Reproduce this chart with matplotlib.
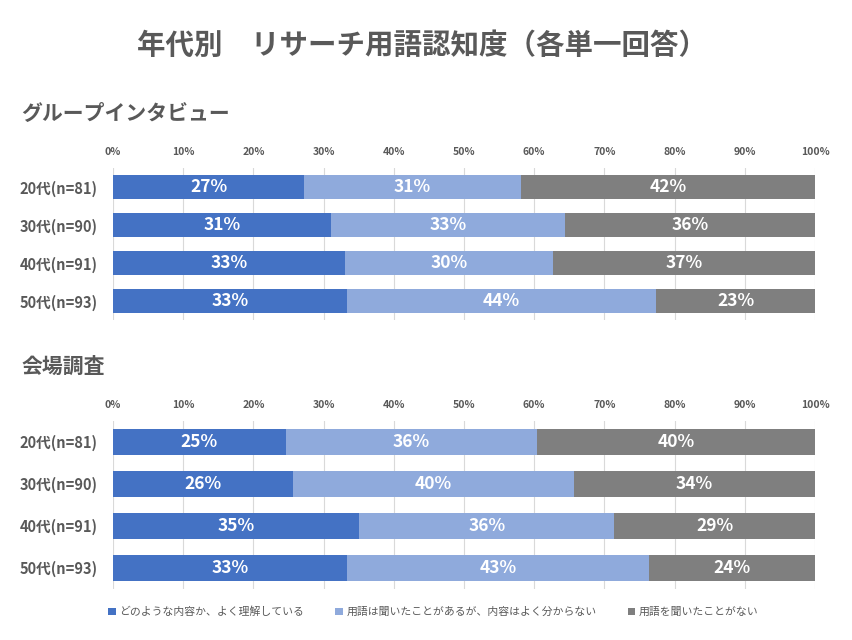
import matplotlib
matplotlib.use("Agg")
import matplotlib.pyplot as plt
from matplotlib.patches import Patch
import numpy as np

plt.rcParams['font.family'] = ['Noto Sans CJK JP', 'DejaVu Sans']

# data (percent)
ages = ["20代(n=81)", "30代(n=90)", "40代(n=91)", "50代(n=93)"]
series_names = ["どのような内容か、よく理解している",
                "用語は聞いたことがあるが、内容はよく分からない",
                "用語を聞いたことがない"]
group_interview = [
    [27.2, 31.1, 33.0, 33.3],
    [30.9, 33.3, 29.7, 44.1],
    [41.9, 35.6, 37.3, 22.6],
]
venue_survey = [
    [24.6, 25.6, 35.1, 33.4],
    [35.8, 40.0, 36.3, 43.0],
    [39.6, 34.4, 28.6, 23.6],
]
ticks = [0, 10, 20, 30, 40, 50, 60, 70, 80, 90, 100]

colors = ["#4472C4", "#8FAADC", "#7F7F7F"]
text_col = "#595959"


def draw(ax, data, height):
    y = np.arange(len(ages))
    left = np.zeros(len(ages))
    for vals, col in zip(data, colors):
        vals = np.array(vals)
        bars = ax.barh(y, vals, left=left, height=height, color=col, zorder=3)
        ax.bar_label(bars, labels=[f"{v:.0f}%" for v in vals], label_type='center',
                     color='white', fontsize=12.5, fontweight='bold')
        left += vals
    ax.set_xlim(0, 100)
    ax.set_ylim(len(ages) - 0.5, -0.5)
    ax.set_yticks(y)
    ax.set_yticklabels(ages, fontsize=10.5, fontweight='bold', color=text_col)
    ax.set_xticks(ticks)
    ax.set_xticklabels([f"{t}%" for t in ticks], fontsize=7.5, fontweight='bold',
                       color=text_col)
    ax.xaxis.tick_top()
    ax.tick_params(axis='x', length=0, pad=8)
    ax.tick_params(axis='y', length=0, pad=11)
    ax.grid(axis='x', color='#D9D9D9', linewidth=0.8, zorder=0)
    for s in ax.spines.values():
        s.set_visible(False)


fig = plt.figure(figsize=(8.53, 6.4), dpi=100)

ax1 = fig.add_axes([0.1325, 0.5, 0.823, 0.2375])
draw(ax1, group_interview, 0.63)

ax2 = fig.add_axes([0.1325, 0.08, 0.823, 0.2625])
draw(ax2, venue_survey, 0.62)

fig.text(0.495, 0.928, "年代別　リサーチ用語認知度（各単一回答）", ha='center', va='center',
         fontsize=20.5, fontweight='bold', color=text_col)
fig.text(0.025, 0.823, "グループインタビュー", ha='left', va='center',
         fontsize=15, fontweight='bold', color=text_col)
fig.text(0.025, 0.428, "会場調査", ha='left', va='center',
         fontsize=15, fontweight='bold', color=text_col)

handles = [Patch(facecolor=c, edgecolor='none') for c in colors]
fig.legend(handles, series_names, loc='center', bbox_to_anchor=(0.508, 0.044), ncol=3,
           frameon=False, fontsize=7.8, handlelength=0.7, handleheight=0.7,
           handletextpad=0.3, columnspacing=2.9, labelcolor=text_col)

fig.savefig("out.png", dpi=100)
